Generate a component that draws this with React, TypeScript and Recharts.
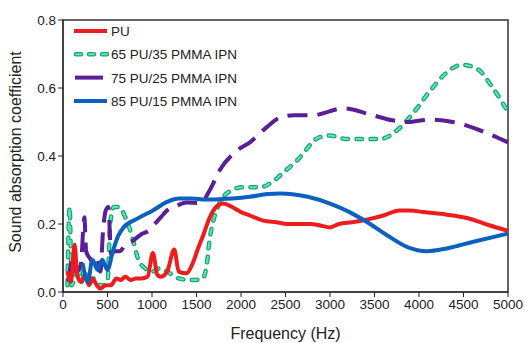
import React from "react";
import {
  LineChart,
  Line,
  XAxis,
  YAxis,
  ReferenceArea,
} from "recharts";

// [frequency Hz, absorption coefficient]
const pu: number[][] = [
  [50, 0.06], [90, 0.03], [130, 0.14], [160, 0.05], [200, 0.03], [250, 0.05],
  [290, 0.02], [330, 0.04], [380, 0.02], [420, 0.01], [480, 0.02], [540, 0.02],
  [600, 0.04], [650, 0.035], [700, 0.045], [760, 0.035], [820, 0.04], [880, 0.04],
  [950, 0.045], [1010, 0.115], [1060, 0.05], [1100, 0.045], [1170, 0.06],
  [1250, 0.125], [1300, 0.06], [1390, 0.055], [1450, 0.08], [1520, 0.13],
  [1580, 0.17], [1650, 0.22], [1720, 0.25], [1800, 0.26], [1900, 0.25],
  [2000, 0.235], [2100, 0.225], [2250, 0.21], [2400, 0.205], [2520, 0.2],
  [2650, 0.2], [2780, 0.2], [2900, 0.195], [3000, 0.19], [3100, 0.2],
  [3250, 0.205], [3450, 0.215], [3600, 0.225], [3780, 0.24], [3900, 0.24],
  [4050, 0.235], [4300, 0.228], [4550, 0.217], [4780, 0.197], [5000, 0.18],
];

const ipn65: number[][] = [
  [50, 0.02], [75, 0.25], [95, 0.02], [130, 0.04], [170, 0.08], [210, 0.03],
  [250, 0.06], [290, 0.02], [340, 0.04], [400, 0.02], [450, 0.02], [500, 0.03],
  [530, 0.2], [570, 0.25], [630, 0.25], [700, 0.22], [780, 0.16], [840, 0.1],
  [920, 0.07], [1000, 0.06], [1090, 0.07], [1170, 0.06], [1300, 0.04],
  [1450, 0.035], [1570, 0.04], [1620, 0.09], [1645, 0.15], [1680, 0.2],
  [1740, 0.25], [1840, 0.29], [2020, 0.308], [2210, 0.308], [2330, 0.32],
  [2470, 0.35], [2630, 0.387], [2880, 0.455], [3000, 0.46], [3190, 0.45],
  [3400, 0.45], [3560, 0.45], [3750, 0.475], [3930, 0.525], [4120, 0.59],
  [4310, 0.645], [4480, 0.668], [4650, 0.657], [4830, 0.6], [5000, 0.53],
];

const ipn75: number[][] = [
  [60, 0.03], [80, 0.07], [110, 0.1], [150, 0.06], [200, 0.08], [240, 0.22],
  [260, 0.12], [300, 0.1], [340, 0.09], [380, 0.1], [420, 0.06], [450, 0.18],
  [480, 0.24], [510, 0.25], [540, 0.11], [580, 0.12], [640, 0.12], [700, 0.14],
  [780, 0.15], [880, 0.17], [960, 0.18], [1030, 0.2], [1100, 0.22], [1170, 0.24],
  [1250, 0.25], [1390, 0.263], [1540, 0.262], [1650, 0.3], [1760, 0.358],
  [1950, 0.415], [2100, 0.44], [2290, 0.485], [2440, 0.513], [2600, 0.52],
  [2800, 0.52], [3150, 0.54], [3480, 0.52], [3700, 0.505], [3870, 0.5],
  [4120, 0.507], [4380, 0.5], [4690, 0.475], [5000, 0.44],
];

const ipn85: number[][] = [
  [220, 0.085], [280, 0.03], [330, 0.095], [390, 0.065], [440, 0.095],
  [500, 0.065], [560, 0.12], [620, 0.165], [680, 0.19], [830, 0.215],
  [1010, 0.24], [1170, 0.265], [1300, 0.275], [1450, 0.275], [1600, 0.272],
  [1750, 0.273], [1900, 0.275], [2100, 0.28], [2300, 0.288], [2440, 0.29],
  [2600, 0.287], [2750, 0.28], [3000, 0.26], [3220, 0.235], [3420, 0.205],
  [3640, 0.167], [3870, 0.132], [4090, 0.12], [4310, 0.128], [4600, 0.147],
  [5000, 0.172],
];

const xTicks = [0, 500, 1000, 1500, 2000, 2500, 3000, 3500, 4000, 4500, 5000];
const yTicks = [0, 0.2, 0.4, 0.6, 0.8];

const seriesNames = [
  "PU",
  "65 PU/35 PMMA IPN",
  "75 PU/25 PMMA IPN",
  "85 PU/15 PMMA IPN",
];

const toRows = (arr: number[][]) => arr.map(([f, v]) => ({ f, v }));

const RED = "#ee1d1d";
const GREEN_DARK = "#17a574";
const GREEN_LIGHT = "#5ce8b4";
const PURPLE = "#5a1e96";
const BLUE = "#0c60c0";

const font = "'Liberation Sans', Arial, sans-serif";

function LegendBox() {
  const rowH = 23.3;
  return (
    <svg width={200} height={90} style={{ display: "block" }}>
      {seriesNames.map((name, i) => {
        const y = 8 + i * rowH;
        return (
          <g key={name}>
            {i === 0 && (
              <line x1={4} x2={37} y1={y} y2={y} stroke={RED} strokeWidth={4} />
            )}
            {i === 1 && (
              <>
                <line x1={6} x2={37} y1={y} y2={y} stroke={GREEN_DARK} strokeWidth={4.5}
                  strokeDasharray="5 8" strokeLinecap="round" />
                <line x1={6} x2={37} y1={y} y2={y} stroke={GREEN_LIGHT} strokeWidth={2}
                  strokeDasharray="5 8" strokeLinecap="round" />
              </>
            )}
            {i === 2 && (
              <line x1={5} x2={33} y1={y} y2={y} stroke={PURPLE} strokeWidth={4} />
            )}
            {i === 3 && (
              <line x1={4} x2={37} y1={y} y2={y} stroke={BLUE} strokeWidth={4} />
            )}
            <text x={41} y={y + 5} fontSize={13.5} fill="#222" fontFamily={font}>
              {name}
            </text>
          </g>
        );
      })}
    </svg>
  );
}

export default function App() {
  return (
    <div style={{ position: "absolute", left: 0, top: 0, width: 525, height: 343, background: "#fff" }}>
      <LineChart
        width={525}
        height={343}
        margin={{ top: 20, right: 17, bottom: 21, left: 0 }}
      >
        <XAxis
          dataKey="f"
          type="number"
          domain={[0, 5000]}
          ticks={xTicks}
          height={30}
          allowDuplicatedCategory={false}
          stroke="#222"
          tickSize={5}
          tick={{ fontSize: 13.5, fill: "#222", fontFamily: font }}
          label={{
            value: "Frequency (Hz)",
            position: "insideBottom",
            offset: -17,
            fontSize: 16,
            fill: "#222",
            fontFamily: font,
          }}
        />
        <YAxis
          type="number"
          domain={[0, 0.8]}
          ticks={yTicks}
          width={63}
          stroke="#222"
          tickSize={5}
          tickFormatter={(v) => Number(v).toFixed(1)}
          tick={{ fontSize: 13.5, fill: "#222", fontFamily: font }}
          label={{
            value: "Sound absorption coefficient",
            angle: -90,
            position: "insideLeft",
            offset: 15,
            dy: -4,
            style: { textAnchor: "middle" },
            fontSize: 16,
            fill: "#222",
            fontFamily: font,
          }}
        />
        <ReferenceArea
          x1={0}
          x2={5000}
          y1={0}
          y2={0.8}
          fill="none"
          stroke="#333"
          strokeWidth={1.5}
          ifOverflow="visible"
        />
        <Line
          data={toRows(ipn65)}
          dataKey="v"
          type="monotone"
          stroke={GREEN_DARK}
          strokeWidth={4.5}
          strokeDasharray="5.5 8.5"
          strokeLinecap="round"
          dot={false}
          isAnimationActive={false}
        />
        <Line
          data={toRows(ipn65)}
          dataKey="v"
          type="monotone"
          stroke={GREEN_LIGHT}
          strokeWidth={2}
          strokeDasharray="5.5 8.5"
          strokeLinecap="round"
          dot={false}
          isAnimationActive={false}
        />
        <Line
          data={toRows(ipn75)}
          dataKey="v"
          type="monotone"
          stroke={PURPLE}
          strokeWidth={4}
          strokeDasharray="20 10"
          dot={false}
          isAnimationActive={false}
        />
        <Line
          data={toRows(pu)}
          dataKey="v"
          type="monotone"
          stroke={RED}
          strokeWidth={4}
          dot={false}
          isAnimationActive={false}
        />
        <Line
          data={toRows(ipn85)}
          dataKey="v"
          type="monotone"
          stroke={BLUE}
          strokeWidth={4}
          dot={false}
          isAnimationActive={false}
        />
      </LineChart>
      <div style={{ position: "absolute", left: 70, top: 23 }}>
        <LegendBox />
      </div>
    </div>
  );
}
